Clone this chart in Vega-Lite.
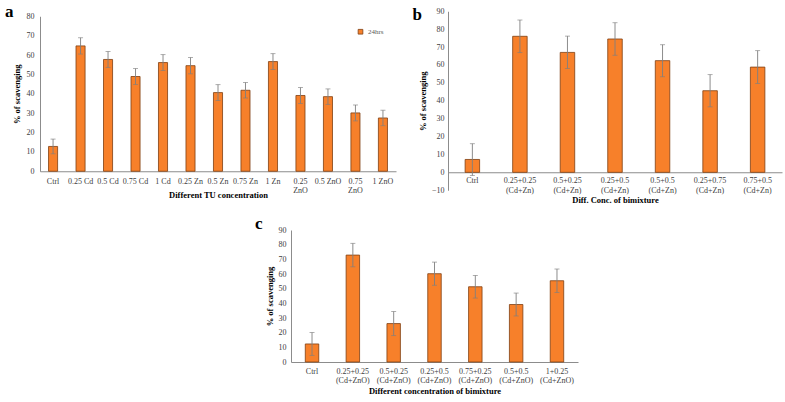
{
  "$schema": "https://vega.github.io/schema/vega-lite/v6.json",
  "background": "white",
  "padding": {"left": 5, "top": 3, "right": 2, "bottom": 0},
  "config": {
    "font": "Liberation Serif",
    "view": {"stroke": null},
    "axis": {"labelFont": "Liberation Serif", "titleFont": "Liberation Serif", "labelColor": "#404040", "titleColor": "#000000", "domainColor": "#8c8c8c", "ticks": false, "grid": false, "labelFontSize": 8, "titleFontSize": 8.5, "titleFontWeight": "bold"},
    "axisY": {"labelOverlap": false, "tickCount": 20},
    "title": {"font": "Liberation Serif", "fontSize": 17, "fontWeight": "bold", "anchor": "start", "frame": "bounds", "color": "#000000"},
    "bar": {"fill": "#F7802A", "stroke": "#7F3F12", "strokeWidth": 0.8},
    "rule": {"color": "#7f7f7f", "strokeWidth": 0.9},
    "tick": {"color": "#7f7f7f", "thickness": 0.9}
  },
  "resolve": {"legend": {"color": "independent"}, "scale": {"color": "independent"}},
  "vconcat": [
    {
      "resolve": {"legend": {"color": "independent"}, "scale": {"color": "independent"}},
      "center": true,
      "hconcat": [
        {
          "title": {"text": "a", "offset": -9, "dx": -7},
          "width": 356,
          "height": 155,
          "data": {"values": [
            {"c": "Ctrl", "v": 12.8, "lo": 9.0, "hi": 16.6, "s": "24hrs"},
            {"c": "0.25 Cd", "v": 64.7, "lo": 60.5, "hi": 68.9, "s": "24hrs"},
            {"c": "0.5 Cd", "v": 57.7, "lo": 53.6, "hi": 61.8, "s": "24hrs"},
            {"c": "0.75 Cd", "v": 48.9, "lo": 44.8, "hi": 53.0, "s": "24hrs"},
            {"c": "1 Cd", "v": 56.1, "lo": 52.0, "hi": 60.2, "s": "24hrs"},
            {"c": "0.25 Zn", "v": 54.5, "lo": 50.3, "hi": 58.7, "s": "24hrs"},
            {"c": "0.5 Zn", "v": 40.6, "lo": 36.5, "hi": 44.7, "s": "24hrs"},
            {"c": "0.75 Zn", "v": 41.8, "lo": 37.8, "hi": 45.8, "s": "24hrs"},
            {"c": "1 Zn", "v": 56.6, "lo": 52.5, "hi": 60.7, "s": "24hrs"},
            {"c": "0.25\nZnO", "v": 39.1, "lo": 35.0, "hi": 43.2, "s": "24hrs"},
            {"c": "0.5 ZnO", "v": 38.5, "lo": 34.5, "hi": 42.5, "s": "24hrs"},
            {"c": "0.75\nZnO", "v": 30.1, "lo": 26.0, "hi": 34.2, "s": "24hrs"},
            {"c": "1 ZnO", "v": 27.5, "lo": 23.5, "hi": 31.5, "s": "24hrs"}
          ]},
          "encoding": {
            "x": {"field": "c", "type": "nominal", "sort": null, "title": "Different TU concentration",
                  "scale": {"paddingInner": 0.67, "paddingOuter": 0.31},
                  "axis": {"labelAngle": 0, "labelPadding": 6, "titlePadding": -4, "labelExpr": "split(datum.label, '\\n')", "labelLineHeight": 9}}
          },
          "layer": [
            {"mark": {"type": "bar"},
             "encoding": {
               "y": {"field": "v", "type": "quantitative", "title": "% of scavenging",
                     "scale": {"domain": [0, 80], "nice": false},
                     "axis": {"values": [0,10,20,30,40,50,60,70,80], "tickCount": 20, "labelOverlap": false, "labelPadding": 6, "titlePadding": 5}},
               "color": {"field": "s", "type": "nominal", "scale": {"range": ["#F7802A"]},
                         "legend": {"title": null, "orient": "top-right", "offset": 12, "symbolType": "square", "symbolSize": 22, "symbolStrokeWidth": 0, "labelFont": "Liberation Serif", "labelFontSize": 7, "labelColor": "#595959", "padding": 0}}
             }},
            {"mark": {"type": "rule"}, "encoding": {"y": {"field": "lo", "type": "quantitative"}, "y2": {"field": "hi"}}},
            {"mark": {"type": "tick", "size": 5}, "encoding": {"y": {"field": "lo", "type": "quantitative"}}},
            {"mark": {"type": "tick", "size": 5}, "encoding": {"y": {"field": "hi", "type": "quantitative"}}}
          ]
        },
        {
          "title": {"text": "b", "offset": -17, "dx": -6},
          "width": 334,
          "height": 179,
          "data": {"values": [
            {"c": "Ctrl", "v": 7.2, "lo": -1.8, "hi": 16.0},
            {"c": "0.25+0.25\n(Cd+Zn)", "v": 76.0, "lo": 66.9, "hi": 85.1},
            {"c": "0.5+0.25\n(Cd+Zn)", "v": 67.0, "lo": 58.0, "hi": 76.1},
            {"c": "0.25+0.5\n(Cd+Zn)", "v": 74.5, "lo": 65.4, "hi": 83.6},
            {"c": "0.5+0.5\n(Cd+Zn)", "v": 62.4, "lo": 53.4, "hi": 71.3},
            {"c": "0.25+0.75\n(Cd+Zn)", "v": 45.6, "lo": 36.6, "hi": 54.6},
            {"c": "0.75+0.5\n(Cd+Zn)", "v": 58.8, "lo": 49.6, "hi": 68.0}
          ]},
          "encoding": {
            "x": {"field": "c", "type": "nominal", "sort": null, "title": "Diff. Conc. of bimixture",
                  "scale": {"paddingInner": 0.695, "paddingOuter": 0.36},
                  "axis": {"labelAngle": 0, "offset": -18, "labelPadding": 4, "titlePadding": 1, "labelExpr": "split(datum.label, '\\n')", "labelLineHeight": 10}}
          },
          "layer": [
            {"mark": {"type": "bar"},
             "encoding": {
               "y": {"field": "v", "type": "quantitative", "title": "% of scavenging",
                     "scale": {"domain": [-10, 90], "nice": false},
                     "axis": {"values": [-10,0,10,20,30,40,50,60,70,80,90], "tickCount": 20, "labelOverlap": false, "labelPadding": 4, "titlePadding": 4}}
             }},
            {"mark": {"type": "rule"}, "encoding": {"y": {"field": "lo", "type": "quantitative"}, "y2": {"field": "hi"}}},
            {"mark": {"type": "tick", "size": 5}, "encoding": {"y": {"field": "lo", "type": "quantitative"}}},
            {"mark": {"type": "tick", "size": 5}, "encoding": {"y": {"field": "hi", "type": "quantitative"}}}
          ]
        }
      ],
      "spacing": 16
    },
    {
      "hconcat": [
        {
          "width": 215,
          "height": 10,
          "data": {"values": []},
          "mark": {"type": "point", "opacity": 0},
          "encoding": {}
        },
        {
          "title": {"text": "c", "offset": -7, "dx": -10},
          "width": 287,
          "height": 132,
          "data": {"values": [
            {"c": "Ctrl", "v": 12.3, "lo": 4.5, "hi": 20.1},
            {"c": "0.25+0.25\n(Cd+ZnO)", "v": 72.9, "lo": 64.9, "hi": 80.9},
            {"c": "0.5+0.25\n(Cd+ZnO)", "v": 26.2, "lo": 18.0, "hi": 34.4},
            {"c": "0.25+0.5\n(Cd+ZnO)", "v": 60.2, "lo": 52.3, "hi": 68.1},
            {"c": "0.75+0.25\n(Cd+ZnO)", "v": 51.3, "lo": 43.6, "hi": 59.0},
            {"c": "0.5+0.5\n(Cd+ZnO)", "v": 39.2, "lo": 31.4, "hi": 47.0},
            {"c": "1+0.25\n(Cd+ZnO)", "v": 55.4, "lo": 47.4, "hi": 63.4}
          ]},
          "encoding": {
            "x": {"field": "c", "type": "nominal", "sort": null, "title": "Different concentration of bimixture",
                  "scale": {"paddingInner": 0.67, "paddingOuter": 0.35},
                  "axis": {"labelAngle": 0, "labelPadding": 5, "titlePadding": 2, "labelExpr": "split(datum.label, '\\n')", "labelLineHeight": 9}}
          },
          "layer": [
            {"mark": {"type": "bar"},
             "encoding": {
               "y": {"field": "v", "type": "quantitative", "title": "% of scavenging",
                     "scale": {"domain": [0, 90], "nice": false},
                     "axis": {"values": [0,10,20,30,40,50,60,70,80,90], "tickCount": 20, "labelOverlap": false, "labelPadding": 5, "titlePadding": 4}}
             }},
            {"mark": {"type": "rule"}, "encoding": {"y": {"field": "lo", "type": "quantitative"}, "y2": {"field": "hi"}}},
            {"mark": {"type": "tick", "size": 5}, "encoding": {"y": {"field": "lo", "type": "quantitative"}}},
            {"mark": {"type": "tick", "size": 5}, "encoding": {"y": {"field": "hi", "type": "quantitative"}}}
          ]
        }
      ],
      "spacing": 0
    }
  ],
  "spacing": 11
}
